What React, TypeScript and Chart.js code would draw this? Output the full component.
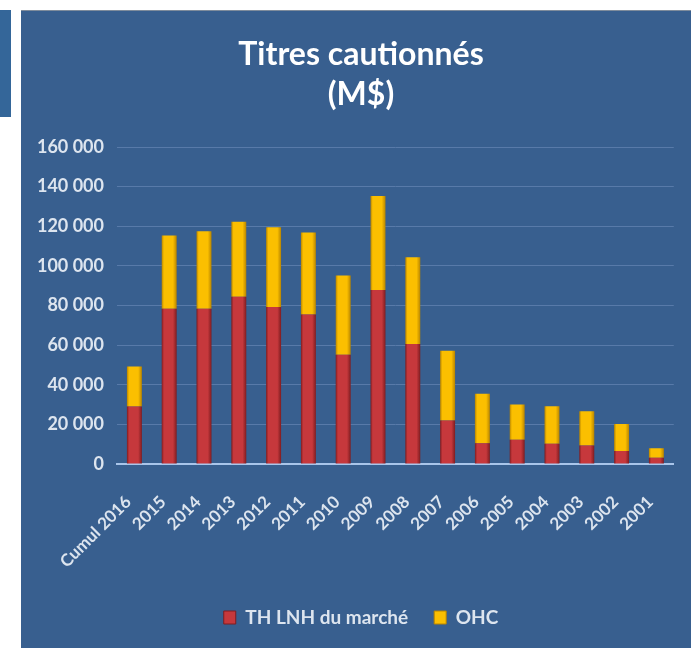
import React, { useEffect, useRef } from "react";
import { Chart, registerables } from "chart.js";
Chart.register(...registerables);

const categories = ["Cumul 2016", "2015", "2014", "2013", "2012", "2011", "2010", "2009", "2008", "2007", "2006", "2005", "2004", "2003", "2002", "2001"];
const thLnhValues = [29000, 78300, 78300, 84400, 79300, 75400, 55200, 87800, 60600, 21900, 10500, 12200, 10200, 9300, 6600, 3200];
const ohcValues = [20200, 37000, 39200, 37900, 40200, 41400, 39900, 47500, 43800, 35300, 25000, 17800, 19000, 17300, 13600, 4700];
const seriesLabels = ["TH LNH du marché", "OHC"];
const titleLines = ["Titres cautionnés", "(M$)"];

const FONT = "Lato, 'Open Sans', sans-serif";
const TEXT = "#dde5ef";
const BAR_PCT = 0.43;
const flatColors = ["#c6383c", "#fbbf00"];
const edgeColors = ["#7e1c20", "#b88500"];

function fmt(v: number) {
  return String(v).replace(/\B(?=(\d{3})+(?!\d))/g, " ");
}

function barFill(idx: number) {
  return (ctx: any) => {
    const chart = ctx.chart;
    const xs = chart.scales && chart.scales.x;
    if (!xs || ctx.type !== "data" || !isFinite(xs.width) || xs.width <= 0) return flatColors[idx];
    const cx = xs.getPixelForValue(ctx.dataIndex);
    const w = (xs.width / categories.length) * BAR_PCT;
    if (!isFinite(cx) || !isFinite(w)) return flatColors[idx];
    const g = chart.ctx.createLinearGradient(cx - w / 2, 0, cx + w / 2, 0);
    g.addColorStop(0, edgeColors[idx]);
    g.addColorStop(0.15, flatColors[idx]);
    g.addColorStop(0.75, flatColors[idx]);
    g.addColorStop(1, edgeColors[idx]);
    return g;
  };
}

export default function App() {
  const ref = useRef<HTMLCanvasElement | null>(null);
  useEffect(() => {
    if (!ref.current) return;
    const chart = new Chart(ref.current, {
      type: "bar",
      data: {
        labels: categories,
        datasets: [
          {
            label: seriesLabels[0],
            data: thLnhValues,
            backgroundColor: barFill(0),
            borderWidth: 0,
            barPercentage: BAR_PCT,
            categoryPercentage: 1,
          },
          {
            label: seriesLabels[1],
            data: ohcValues,
            backgroundColor: barFill(1),
            borderWidth: 0,
            barPercentage: BAR_PCT,
            categoryPercentage: 1,
          },
        ],
      },
      options: {
        responsive: false,
        animation: false,
        layout: { padding: { left: 16, right: 6, top: 0, bottom: 11 } },
        plugins: {
          title: {
            display: true,
            text: titleLines,
            color: "#ffffff",
            font: { family: FONT, size: 32, weight: "bold", lineHeight: 1.25 },
            padding: { top: 24, bottom: 32 },
          },
          legend: {
            position: "bottom",
            labels: {
              color: TEXT,
              font: { family: FONT, size: 19, weight: "bold" },
              boxWidth: 12,
              boxHeight: 13,
              padding: 26,
              generateLabels: (c: any) =>
                seriesLabels.map((text, i) => ({
                  text,
                  fillStyle: flatColors[i],
                  strokeStyle: edgeColors[i],
                  lineWidth: 1,
                  fontColor: TEXT,
                  hidden: false,
                  datasetIndex: i,
                })),
            },
          },
          tooltip: { enabled: false },
        },
        scales: {
          x: {
            stacked: true,
            grid: { display: false },
            border: { color: "#a9c5ea", width: 2 },
            afterFit: (scale: any) => {
              scale.height = 118;
            },
            ticks: {
              color: TEXT,
              font: { family: FONT, size: 17, weight: "bold" },
              minRotation: 45,
              maxRotation: 45,
              autoSkip: false,
              padding: 20,
              labelOffset: -6,
            },
          },
          y: {
            stacked: true,
            min: 0,
            max: 160000,
            grid: { color: "#587aa9", lineWidth: 1, drawTicks: false },
            border: { display: false },
            afterFit: (scale: any) => {
              scale.width = 80;
            },
            ticks: {
              stepSize: 20000,
              color: TEXT,
              padding: 13,
              font: { family: FONT, size: 18, weight: "bold" },
              callback: (v: any) => fmt(Number(v)),
            },
          },
        },
      },
    });
    return () => chart.destroy();
  }, []);

  return (
    <div>
      <div style={{ position: "fixed", left: 0, top: 10, width: 11, height: 107, background: "#346699" }} />
      <div
        style={{
          position: "fixed",
          left: 21,
          top: 10,
          width: 670,
          height: 638,
          background: "#385f8f",
          borderTop: "1px solid #7f8c9c",
        }}
      >
        <canvas ref={ref} width={670} height={637} style={{ display: "block" }} />
      </div>
    </div>
  );
}
